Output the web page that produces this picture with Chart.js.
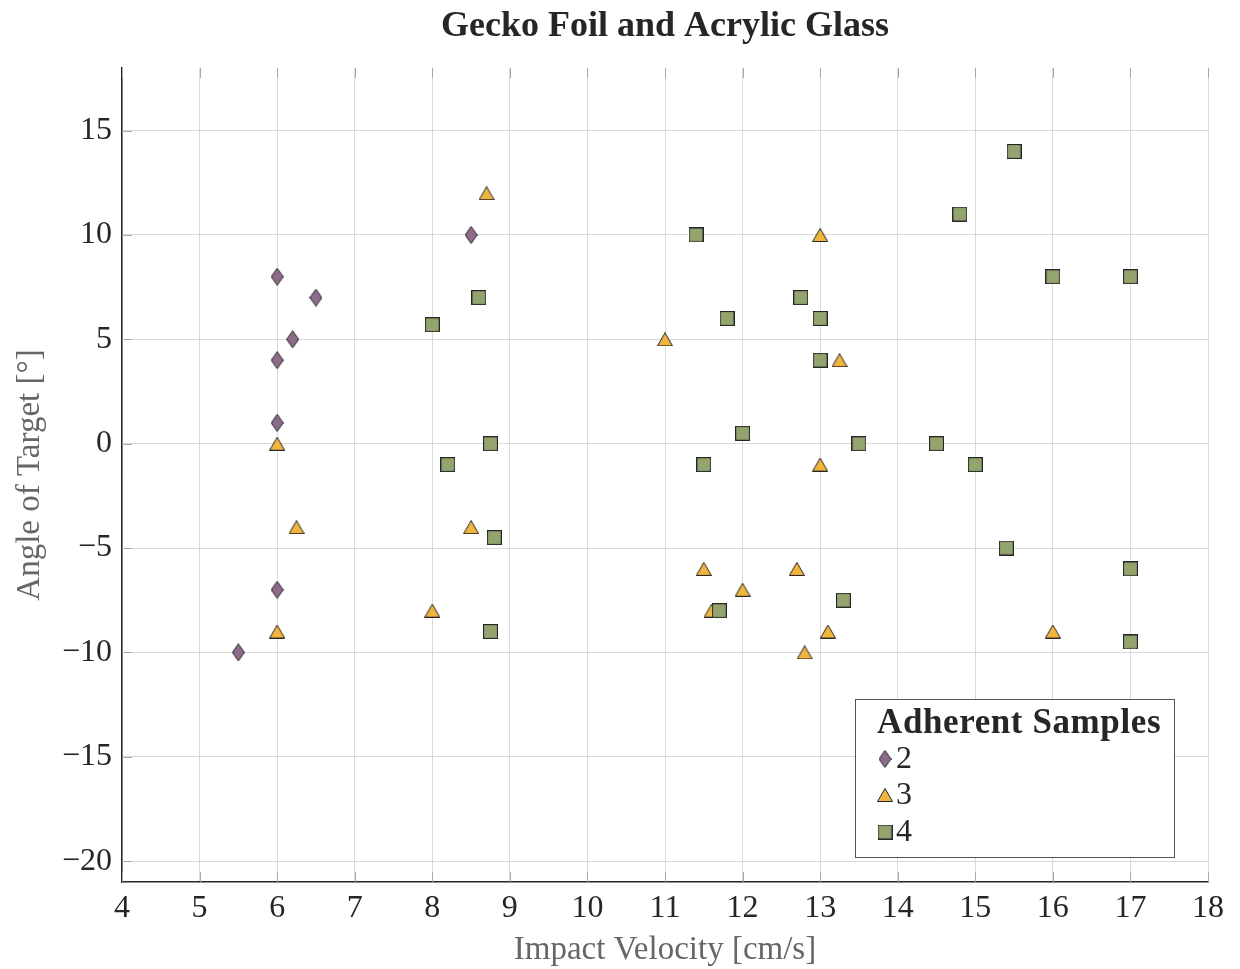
<!DOCTYPE html>
<html>
<head>
<meta charset="utf-8">
<script src="https://cdn.jsdelivr.net/npm/chart.js@4.4.1/dist/chart.umd.min.js"></script>
<style>
html,body{margin:0;padding:0;background:#fff;}
#wrap{width:1240px;height:969px;}
</style>
</head>
<body>
<div id="wrap"><canvas id="c" width="1240" height="969"></canvas></div>
<script>
// ---- Data ----
const seriesNames = ['2', '3', '4'];
const s2x = [6, 6.5, 6.2, 6, 6, 8.5, 6, 5.5];
const s2y = [8, 7, 5, 4, 1, 10, -7, -10];
const s3x = [8.7, 6, 6.25, 8.5, 6, 8, 11, 13, 13.25, 13, 11.5, 12.7, 12, 11.6, 13.1, 12.8, 16];
const s3y = [12, 0, -4, -4, -9, -8, 5, 10, 4, -1, -6, -6, -7, -8, -9, -10, -9];
const s4x = [8, 8.6, 8.75, 8.2, 8.8, 8.75, 11.4, 12.75, 11.8, 13, 13, 12, 11.5, 13.5, 11.7, 13.3, 15.5, 14.8, 16, 17, 14.5, 15, 15.4, 17, 17];
const s4y = [5.7, 7, 0, -1, -4.5, -9, 10, 7, 6, 6, 4, 0.5, -1, 0, -8, -7.5, 14, 11, 8, 8, 0, -1, -5, -6, -9.5];
const xTicks = [4,5,6,7,8,9,10,11,12,13,14,15,16,17,18];
const yTicks = [-20,-15,-10,-5,0,5,10,15];

const FONT = "'Liberation Serif', 'Times New Roman', serif";
const colPurple = '#8d6b8b', colYellow = '#f0b53f', colGreen = '#93a46e', colEdge = '#262626';

function mk(w, h, draw) {
  const c = document.createElement('canvas');
  c.width = w; c.height = h;
  const g = c.getContext('2d');
  draw(g, w, h);
  return c;
}
const diamond = mk(13, 18, (g, w, h) => {
  g.beginPath(); g.moveTo(w/2, 0.5); g.lineTo(w-0.5, h/2); g.lineTo(w/2, h-0.5); g.lineTo(0.5, h/2); g.closePath();
  g.fillStyle = colPurple; g.fill(); g.strokeStyle = colEdge; g.lineWidth = 1; g.stroke();
});
const triangle = mk(16, 14, (g, w, h) => {
  g.beginPath(); g.moveTo(w/2, 0.5); g.lineTo(w-0.5, h-0.5); g.lineTo(0.5, h-0.5); g.closePath();
  g.fillStyle = colYellow; g.fill(); g.strokeStyle = colEdge; g.lineWidth = 1; g.stroke();
});
const square = mk(15, 15, (g, w, h) => {
  g.fillStyle = colGreen; g.fillRect(0.5, 0.5, w-1, h-1);
  g.strokeStyle = colEdge; g.lineWidth = 1.2; g.strokeRect(0.5, 0.5, w-1, h-1);
});

function pts(xs, ys) { return xs.map((x, i) => ({x: x, y: ys[i]})); }
function fmt(v) { return v < 0 ? '\u2212' + Math.abs(v) : String(v); }

const innerTicks = {
  id: 'innerTicks',
  beforeDatasetsDraw(chart) {
    const {ctx, chartArea: a, scales: {x, y}} = chart;
    ctx.save();
    ctx.strokeStyle = '#a8a8a8'; ctx.lineWidth = 1;
    ctx.beginPath();
    xTicks.forEach(v => {
      const px = Math.round(x.getPixelForValue(v)) + 0.5;
      ctx.moveTo(px, a.bottom); ctx.lineTo(px, a.bottom - 10);
      ctx.moveTo(px, a.top); ctx.lineTo(px, a.top + 10);
    });
    yTicks.forEach(v => {
      const py = Math.round(y.getPixelForValue(v)) + 0.5;
      ctx.moveTo(a.left, py); ctx.lineTo(a.left + 10, py);
    });
    ctx.stroke();
    ctx.restore();
  }
};

const legendPlugin = {
  id: 'boxLegend',
  afterDraw(chart) {
    const ctx = chart.ctx;
    const x0 = 855.5, y0 = 699.5, w = 319, h = 158;
    ctx.save();
    ctx.fillStyle = '#fff'; ctx.fillRect(x0, y0, w, h);
    ctx.strokeStyle = '#555'; ctx.lineWidth = 1; ctx.strokeRect(x0, y0, w, h);
    ctx.fillStyle = '#262626';
    ctx.textBaseline = 'alphabetic';
    ctx.font = 'bold 35px ' + FONT;
    try { ctx.letterSpacing = '0.6px'; } catch (e) {}
    ctx.fillText('Adherent Samples', 877, 733);
    try { ctx.letterSpacing = '0px'; } catch (e) {}
    const imgs = [diamond, triangle, square];
    const ys = [759, 795, 832];
    ctx.font = '32px ' + FONT;
    ctx.textBaseline = 'middle';
    for (let i = 0; i < 3; i++) {
      const im = imgs[i];
      ctx.drawImage(im, 885 - im.width/2, ys[i] - im.height/2);
      ctx.fillText(seriesNames[i], 896, ys[i] + 1);
    }
    ctx.restore();
  }
};

new Chart(document.getElementById('c'), {
  type: 'scatter',
  data: {
    datasets: [
      {label: seriesNames[0], data: pts(s2x, s2y), pointStyle: diamond, order: 2, pointRadius: 8, pointHoverRadius: 8},
      {label: seriesNames[1], data: pts(s3x, s3y), pointStyle: triangle, order: 1, pointRadius: 8, pointHoverRadius: 8},
      {label: seriesNames[2], data: pts(s4x, s4y), pointStyle: square, order: 0, pointRadius: 8, pointHoverRadius: 8}
    ]
  },
  options: {
    responsive: false,
    animation: false,
    devicePixelRatio: 1,
    layout: {padding: {left: 0, right: 32, top: 0, bottom: 0}},
    plugins: {
      legend: {display: false},
      tooltip: {enabled: false},
      title: {
        display: true,
        text: 'Gecko Foil and Acrylic Glass',
        fullSize: false,
        color: '#262626',
        font: {family: FONT, size: 36, weight: 'bold', lineHeight: 1.2},
        padding: {top: 5, bottom: 19.8}
      }
    },
    scales: {
      x: {
        type: 'linear', min: 4, max: 18,
        afterFit(s) { s.height = 87; },
        afterBuildTicks(s) { s.ticks = xTicks.map(v => ({value: v})); },
        ticks: {stepSize: 1, color: '#262626', padding: 7, font: {family: FONT, size: 32}, callback: fmt, maxRotation: 0, autoSkip: false},
        grid: {color: '#d9d9d9', lineWidth: 1, drawTicks: false},
        border: {display: true, color: '#262626', width: 1.5},
        title: {display: true, text: 'Impact Velocity [cm/s]', color: '#666', font: {family: FONT, size: 33, lineHeight: 1.2}, padding: {top: 0, bottom: -1}}
      },
      y: {
        type: 'linear', min: -21, max: 18,
        afterFit(s) { s.width = 122; },
        afterBuildTicks(s) { s.ticks = yTicks.map(v => ({value: v})); },
        ticks: {stepSize: 5, includeBounds: false, color: '#262626', padding: 10, font: {family: FONT, size: 32}, callback: fmt},
        grid: {color: '#d9d9d9', lineWidth: 1, drawTicks: false},
        border: {display: true, color: '#262626', width: 1.5},
        title: {display: true, text: 'Angle of Target [\u00b0]', color: '#666', font: {family: FONT, size: 33, lineHeight: 1.2}, padding: {top: 11, bottom: 0}}
      }
    }
  },
  plugins: [innerTicks, legendPlugin]
});
</script>
</body>
</html>
